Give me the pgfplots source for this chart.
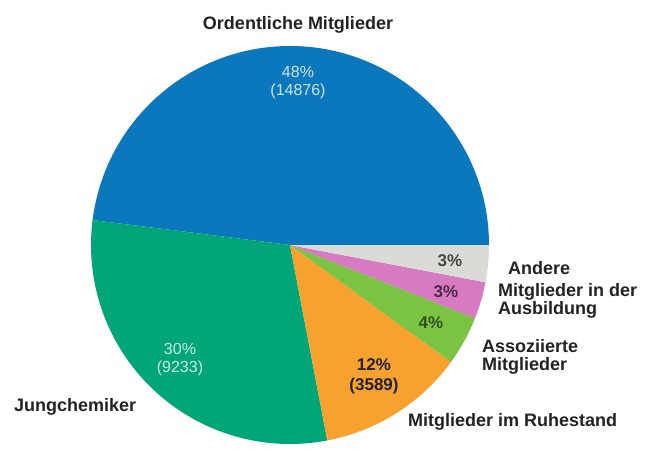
\documentclass[border=0pt]{standalone}
\usepackage{pgfplots}
\usepackage{pgfplotstable}
\pgfplotsset{compat=1.18}
\usepackage{fontspec}
\setmainfont{Liberation Sans}
\definecolor{cblue}{HTML}{0B78BD}
\definecolor{cteal}{HTML}{00A677}
\definecolor{corange}{HTML}{F7A12E}
\definecolor{clgreen}{HTML}{7BC443}
\definecolor{cpink}{HTML}{D67BC1}
\definecolor{cgray}{HTML}{DADAD7}
\definecolor{ctext}{HTML}{222222}
\pgfplotstableread{
name pct
Ordentliche 48
Jungchemiker 30
Ruhestand 12
Assoziierte 4
Ausbildung 3
Andere 3
}\piedata
\begin{document}
\begin{tikzpicture}
\pgfplotstablegetelem{0}{pct}\of\piedata \pgfmathsetmacro\aA{3.6*\pgfplotsretval}
\pgfplotstablegetelem{1}{pct}\of\piedata \pgfmathsetmacro\aB{\aA+3.6*\pgfplotsretval}
\pgfplotstablegetelem{2}{pct}\of\piedata \pgfmathsetmacro\aC{\aB+3.6*\pgfplotsretval}
\pgfplotstablegetelem{3}{pct}\of\piedata \pgfmathsetmacro\aD{\aC+3.6*\pgfplotsretval}
\pgfplotstablegetelem{4}{pct}\of\piedata \pgfmathsetmacro\aE{\aD+3.6*\pgfplotsretval}
\pgfplotstablegetelem{5}{pct}\of\piedata \pgfmathsetmacro\aF{\aE+3.6*\pgfplotsretval}
\begin{axis}[
  width=652bp, height=445bp, scale only axis,
  xmin=0, xmax=652, ymin=0, ymax=445, y dir=reverse,
  hide axis, clip=false,
]
\addplot[draw=none, forget plot] coordinates {(0,0) (652,445)};
\def\R{199bp}
\fill[cblue]   (axis cs:290,245) -- ++(0:\R)   arc[start angle=0,   end angle=\aA, radius=\R] -- cycle;
\fill[cteal]   (axis cs:290,245) -- ++(\aA:\R) arc[start angle=\aA, end angle=\aB, radius=\R] -- cycle;
\fill[corange] (axis cs:290,245) -- ++(\aB:\R) arc[start angle=\aB, end angle=\aC, radius=\R] -- cycle;
\fill[clgreen] (axis cs:290,245) -- ++(\aC:\R) arc[start angle=\aC, end angle=\aD, radius=\R] -- cycle;
\fill[cpink]   (axis cs:290,245) -- ++(\aD:\R) arc[start angle=\aD, end angle=\aE, radius=\R] -- cycle;
\fill[cgray]   (axis cs:290,245) -- ++(\aE:\R) arc[start angle=\aE, end angle=\aF, radius=\R] -- cycle;
% category labels
\tikzset{lab/.style={font=\fontsize{18bp}{18.5bp}\selectfont\bfseries, text=ctext, inner sep=0pt, align=left}}
\node[lab, anchor=center] at (axis cs:298,25) {Ordentliche Mitglieder};
\node[lab, anchor=west] at (axis cs:14,407) {Jungchemiker};
\node[lab, anchor=west] at (axis cs:408,422) {Mitglieder im Ruhestand};
\node[lab, anchor=west] at (axis cs:482,357) {Assoziierte\\Mitglieder};
\node[lab, anchor=west] at (axis cs:498,301) {Mitglieder in der\\Ausbildung};
\node[lab, anchor=west] at (axis cs:508,268) {Andere};
% value labels
\tikzset{val/.style={font=\fontsize{16bp}{18bp}\selectfont, inner sep=0pt, align=center}}
\node[val, text=white!80!cblue] at (axis cs:298,83) {48\%\\(14876)};
\node[val, text=white!80!cteal] at (axis cs:180,360) {30\%\\(9233)};
\tikzset{valb/.style={font=\fontsize{17bp}{20bp}\selectfont\bfseries, inner sep=0pt, align=center}}
\node[valb, text=ctext] at (axis cs:374,376) {12\%\\(3589)};
\node[valb, text=black!60!clgreen] at (axis cs:431,323) {4\%};
\node[valb, text=black!65!cpink] at (axis cs:446,292) {3\%};
\node[valb, text=ctext!80!cgray] at (axis cs:450,261) {3\%};
\end{axis}
\end{tikzpicture}
\end{document}
